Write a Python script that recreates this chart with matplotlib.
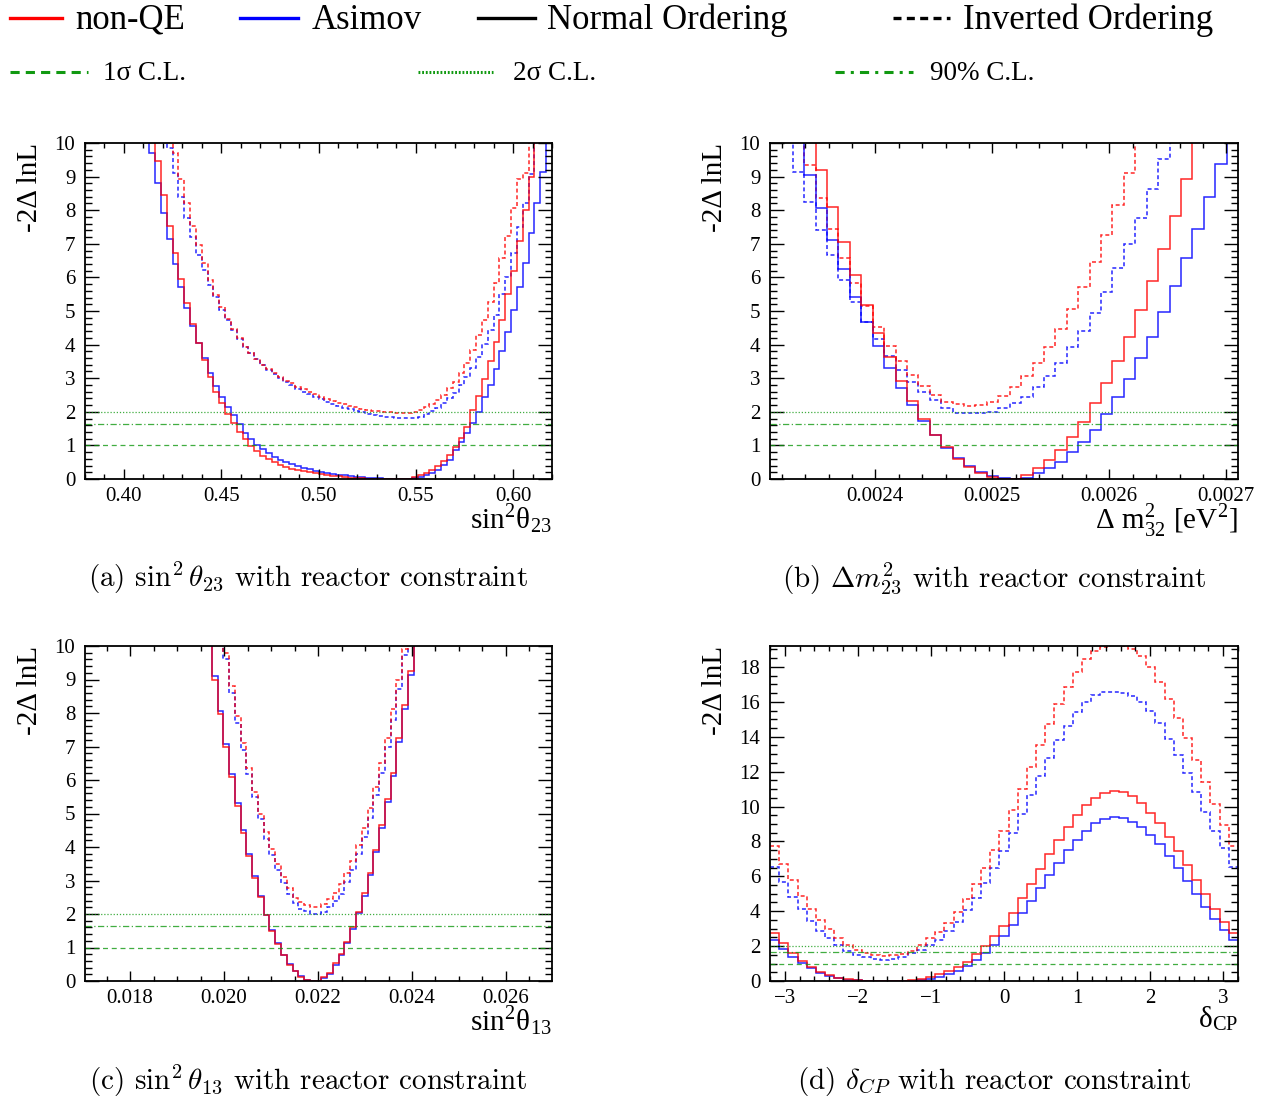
import numpy as np
import matplotlib.pyplot as plt
from matplotlib.lines import Line2D
from matplotlib.ticker import MultipleLocator, FormatStrFormatter

plt.rcParams['font.family'] = ['Liberation Serif', 'DejaVu Serif']
plt.rcParams['mathtext.fontset'] = 'stix'

# ---- data ----
# (a) sin^2 theta23: 80 bins on [0.38, 0.62]
a_edges = np.linspace(0.38, 0.62, 81)
a_nqe_no_start = 11
a_nqe_no = [10.6, 9.46, 8.45, 7.54, 6.72, 5.94, 5.23, 4.60, 4.04, 3.54, 3.05, 2.60, 2.25, 1.93,
            1.66, 1.40, 1.19, 0.99, 0.83, 0.69, 0.59, 0.50, 0.42, 0.36, 0.31, 0.27, 0.23, 0.20,
            0.17, 0.14, 0.12, 0.10, 0.08, 0.06, 0.04, 0.03, 0.02, 0.01, 0.0, 0.0, 0.0, 0.0, 0.0,
            0.0, 0.0, 0.05, 0.12, 0.19, 0.27, 0.38, 0.53, 0.72, 0.96, 1.23, 1.55, 2.05, 2.46,
            2.97, 3.51, 4.07, 4.73, 5.50, 6.20, 7.07, 8.00, 9.00, 10.6]
a_asi_no_start = 10
a_asi_no = [10.6, 9.69, 8.80, 7.91, 7.13, 6.39, 5.72, 5.08, 4.56, 4.04, 3.59, 3.16, 2.78, 2.45,
            2.15, 1.89, 1.64, 1.37, 1.18, 1.02, 0.88, 0.76, 0.66, 0.57, 0.50, 0.44, 0.38, 0.33,
            0.29, 0.25, 0.22, 0.19, 0.16, 0.13, 0.11, 0.09, 0.07, 0.05, 0.04, 0.03, 0.02, 0.01,
            0.0, 0.0, 0.0, 0.0, 0.02, 0.07, 0.12, 0.17, 0.27, 0.42, 0.57, 0.86, 1.11, 1.36, 1.66,
            2.00, 2.45, 2.80, 3.26, 3.81, 4.38, 5.03, 5.72, 6.44, 7.31, 8.20, 9.15, 10.6]
a_nqe_io_start = 14
a_nqe_io = [10.6, 9.69, 8.92, 8.20, 7.53, 6.96, 6.42, 5.92, 5.48, 5.13, 4.76, 4.46, 4.19, 3.94,
            3.74, 3.56, 3.40, 3.26, 3.14, 3.03, 2.93, 2.85, 2.75, 2.67, 2.59, 2.52, 2.45, 2.39,
            2.33, 2.27, 2.22, 2.17, 2.13, 2.09, 2.06, 2.03, 2.01, 1.99, 1.98, 1.97, 1.96, 1.97,
            2.00, 2.05, 2.13, 2.22, 2.35, 2.50, 2.70, 2.90, 3.14, 3.46, 3.84, 4.29, 4.73, 5.28,
            5.82, 6.57, 7.23, 8.06, 8.92, 9.10, 10.6]
a_asi_io_start = 13
a_asi_io = [10.6, 9.84, 9.10, 8.40, 7.76, 7.21, 6.67, 6.22, 5.77, 5.43, 5.03, 4.73, 4.43, 4.17,
            3.94, 3.74, 3.56, 3.40, 3.24, 3.12, 3.00, 2.89, 2.79, 2.69, 2.60, 2.52, 2.44, 2.37,
            2.30, 2.24, 2.18, 2.12, 2.07, 2.02, 1.98, 1.94, 1.91, 1.88, 1.86, 1.84, 1.82, 1.81,
            1.81, 1.82, 1.86, 1.92, 2.01, 2.12, 2.25, 2.40, 2.57, 2.80, 3.03, 3.29, 3.62, 4.02,
            4.43, 4.88, 5.51, 6.02, 6.74, 7.49, 8.22, 9.08, 10.6]

# (b) Delta m^2_32: 41 bins on [0.00231, 0.00271]
b_edges = np.linspace(0.00231, 0.00271, 42)
b_nqe_no_start = 3
b_nqe_no = [10.6, 9.20, 8.09, 7.04, 6.08, 5.19, 4.36, 3.62, 2.93, 2.31, 1.78, 1.30, 0.94, 0.61,
            0.35, 0.17, 0.05, 0.0, 0.0, 0.12, 0.32, 0.57, 0.86, 1.26, 1.71, 2.25, 2.85, 3.51,
            4.24, 5.03, 5.90, 6.84, 7.83, 8.92, 10.6]
b_asi_no_start = 2
b_asi_no = [10.6, 9.05, 8.06, 7.11, 6.24, 5.43, 4.67, 3.96, 3.31, 2.72, 2.20, 1.73, 1.30, 0.91,
            0.63, 0.40, 0.22, 0.09, 0.02, 0.0, 0.04, 0.17, 0.32, 0.52, 0.79, 1.11, 1.46, 1.93,
            2.43, 2.98, 3.59, 4.24, 4.96, 5.74, 6.57, 7.43, 8.38, 9.38, 10.6]
b_nqe_io_start = 2
b_nqe_io = [10.6, 9.35, 8.35, 7.43, 6.59, 5.84, 5.15, 4.51, 3.97, 3.52, 3.10, 2.77, 2.50, 2.30,
            2.22, 2.18, 2.20, 2.30, 2.48, 2.73, 3.06, 3.46, 3.92, 4.45, 5.05, 5.72, 6.47, 7.26,
            8.16, 9.11, 10.6]
b_asi_io_start = 1
b_asi_io = [10.6, 9.13, 8.23, 7.41, 6.67, 5.92, 5.28, 4.68, 4.16, 3.66, 3.24, 2.90, 2.60, 2.35,
            2.10, 1.97, 1.95, 1.95, 2.00, 2.10, 2.25, 2.45, 2.75, 3.07, 3.46, 3.92, 4.39, 4.95,
            5.57, 6.27, 6.99, 7.76, 8.62, 9.51, 10.6]

# (c) sin^2 theta13: 81 bins on [0.01704, 0.02698]
c_edges = np.linspace(0.01704, 0.02698, 82)
c_nqe_no_start = 21
c_nqe_no = [10.6, 9.00, 7.97, 6.99, 6.10, 5.23, 4.43, 3.73, 3.08, 2.52, 1.96, 1.50, 1.10, 0.78,
            0.48, 0.30, 0.13, 0.03, 0.01, 0.0, 0.11, 0.25, 0.53, 0.81, 1.17, 1.60, 2.07, 2.62,
            3.23, 3.91, 4.66, 5.42, 6.22, 7.24, 8.24, 9.26, 10.6]
c_asi_no_start = 21
c_asi_no = [10.6, 9.10, 8.06, 7.07, 6.17, 5.30, 4.50, 3.78, 3.12, 2.54, 1.98, 1.52, 1.12, 0.79,
            0.50, 0.30, 0.14, 0.04, 0.0, 0.0, 0.09, 0.22, 0.48, 0.77, 1.12, 1.55, 2.02, 2.55,
            3.16, 3.84, 4.58, 5.34, 6.12, 7.12, 8.12, 9.14, 10.6]
c_nqe_io_start = 23
c_nqe_io = [10.6, 9.78, 8.81, 7.91, 7.09, 6.35, 5.65, 5.00, 4.44, 3.94, 3.49, 3.11, 2.79, 2.49,
            2.37, 2.27, 2.22, 2.22, 2.29, 2.44, 2.64, 2.89, 3.21, 3.58, 4.06, 4.56, 5.15, 5.80,
            6.50, 7.26, 8.12, 8.99, 9.90, 10.6]
c_asi_io_start = 23
c_asi_io = [10.6, 9.60, 8.60, 7.70, 6.90, 6.17, 5.50, 4.84, 4.25, 3.77, 3.30, 2.92, 2.60, 2.33,
            2.16, 2.08, 2.01, 2.01, 2.06, 2.21, 2.38, 2.61, 2.95, 3.30, 3.80, 4.30, 4.87, 5.55,
            6.20, 7.00, 7.80, 8.72, 9.73, 10.6]

# (d) delta_CP: 51 bins centred on -pi ... pi
d_edges = np.linspace(-np.pi - np.pi / 50, np.pi + np.pi / 50, 52)
d_nqe_no = [2.73, 2.16, 1.62, 1.17, 0.82, 0.53, 0.34, 0.19, 0.10, 0.04, 0.02, 0.0, 0.0, 0.0,
            0.0, 0.04, 0.10, 0.21, 0.38, 0.59, 0.82, 1.11, 1.55, 2.01, 2.58, 3.17, 3.92, 4.74,
            5.54, 6.40, 7.26, 8.08, 8.84, 9.51, 10.09, 10.49, 10.75, 10.89, 10.81, 10.62, 10.22,
            9.65, 9.04, 8.27, 7.45, 6.63, 5.79, 4.97, 4.15, 3.40, 2.73]
d_asi_no = [2.35, 1.81, 1.36, 1.01, 0.73, 0.48, 0.31, 0.17, 0.08, 0.04, 0.01, 0.0, 0.0, 0.0,
            0.0, 0.02, 0.06, 0.13, 0.25, 0.38, 0.57, 0.86, 1.20, 1.59, 2.06, 2.58, 3.21, 3.88,
            4.58, 5.35, 6.09, 6.78, 7.51, 8.08, 8.62, 9.04, 9.26, 9.38, 9.32, 9.13, 8.81, 8.37,
            7.85, 7.16, 6.46, 5.75, 4.99, 4.26, 3.57, 2.92, 2.35]
d_nqe_io = [7.76, 6.70, 5.79, 4.87, 4.15, 3.50, 2.96, 2.48, 2.06, 1.78, 1.59, 1.49, 1.45, 1.47,
            1.55, 1.72, 2.06, 2.45, 2.83, 3.34, 3.97, 4.70, 5.54, 6.46, 7.51, 8.62, 9.80, 11.00,
            12.28, 13.52, 14.73, 15.85, 16.87, 17.73, 18.43, 18.91, 19.16, 19.25, 19.20, 19.00,
            18.62, 18.01, 17.15, 16.16, 15.09, 13.91, 12.66, 11.38, 10.12, 8.94, 7.76]
d_asi_io = [6.55, 5.69, 4.83, 4.11, 3.44, 2.88, 2.48, 2.06, 1.74, 1.49, 1.36, 1.26, 1.22, 1.26,
            1.36, 1.59, 1.80, 2.05, 2.35, 2.85, 3.40, 4.08, 4.74, 5.60, 6.50, 7.45, 8.50, 9.57,
            10.66, 11.75, 12.80, 13.81, 14.61, 15.43, 16.01, 16.39, 16.58, 16.58, 16.52, 16.33,
            16.01, 15.47, 14.77, 13.89, 12.95, 11.90, 10.81, 9.70, 8.62, 7.60, 6.55]

cl_levels = [1.0, 2.0, 1.64]
cl_labels = ['1σ C.L.', '2σ C.L.', '90% C.L.']
series_labels = ['non-QE', 'Asimov', 'Normal Ordering', 'Inverted Ordering']

xlabels = ['sin$^{\\mathregular{2}}$θ$_{\\mathregular{23}}$',
           'Δ m$^{\\mathregular{2}}_{\\mathregular{32}}$ [eV$^{\\mathregular{2}}$]',
           'sin$^{\\mathregular{2}}$θ$_{\\mathregular{13}}$',
           'δ$_{\\mathregular{CP}}$']
captions = [r'(a) $\sin^2\theta_{23}$ with reactor constraint',
            r'(b) $\Delta m^2_{23}$ with reactor constraint',
            r'(c) $\sin^2\theta_{13}$ with reactor constraint',
            r'(d) $\delta_{CP}$ with reactor constraint']

RED, BLUE, GREEN = '#ff0000', '#0000ff', '#119911'
SOLID, DASHED = '-', (0, (2.6, 1.8))

W, H = 1269, 1102


def box(l, t, r, b):
    return [l / W, 1 - b / H, (r - l) / W, (b - t) / H]


def draw_panel(ax, edges, curves, xlim, ylim):
    for start, vals, color, ls in curves:
        e = edges[start:start + len(vals) + 1]
        ax.stairs(vals, e, baseline=None, color=color, ls=ls, lw=1.1, alpha=0.85)
    ax.axhline(cl_levels[0], color=GREEN, lw=0.9, ls=(0, (4, 3)), alpha=0.8)
    ax.axhline(cl_levels[1], color=GREEN, lw=0.9, ls=(0, (1, 1.5)), alpha=0.8)
    ax.axhline(cl_levels[2], color=GREEN, lw=0.9, ls=(0, (5, 2, 1, 2)), alpha=0.8)
    ax.set_xlim(*xlim)
    ax.set_ylim(*ylim)
    ax.tick_params(which='both', direction='in', top=True, right=True, labelsize=15, width=1.0)
    ax.tick_params(axis='y', which='major', length=10, pad=7)
    ax.tick_params(axis='y', which='minor', length=5)
    ax.tick_params(axis='x', which='major', length=7.5, pad=6)
    ax.tick_params(axis='x', which='minor', length=3.8)
    for s in ax.spines.values():
        s.set_linewidth(1.3)


fig = plt.figure(figsize=(W / 100, H / 100), dpi=100)

ax_a = fig.add_axes(box(85, 143, 552, 479))
draw_panel(ax_a, a_edges,
           [(a_asi_io_start, a_asi_io, BLUE, DASHED), (a_nqe_io_start, a_nqe_io, RED, DASHED),
            (a_asi_no_start, a_asi_no, BLUE, SOLID), (a_nqe_no_start, a_nqe_no, RED, SOLID)],
           (0.38, 0.62), (0, 10))
ax_a.xaxis.set_major_locator(MultipleLocator(0.05))
ax_a.xaxis.set_minor_locator(MultipleLocator(0.01))
ax_a.xaxis.set_major_formatter(FormatStrFormatter('%.2f'))

ax_b = fig.add_axes(box(770, 143, 1238, 479))
draw_panel(ax_b, b_edges,
           [(b_asi_io_start, b_asi_io, BLUE, DASHED), (b_nqe_io_start, b_nqe_io, RED, DASHED),
            (b_asi_no_start, b_asi_no, BLUE, SOLID), (b_nqe_no_start, b_nqe_no, RED, SOLID)],
           (0.00231, 0.00271), (0, 10))
ax_b.xaxis.set_major_locator(MultipleLocator(0.0001))
ax_b.xaxis.set_minor_locator(MultipleLocator(0.00002))
ax_b.xaxis.set_major_formatter(FormatStrFormatter('%.4f'))

ax_c = fig.add_axes(box(85, 646, 552, 981))
draw_panel(ax_c, c_edges,
           [(c_asi_io_start, c_asi_io, BLUE, DASHED), (c_nqe_io_start, c_nqe_io, RED, DASHED),
            (c_asi_no_start, c_asi_no, BLUE, SOLID), (c_nqe_no_start, c_nqe_no, RED, SOLID)],
           (0.01704, 0.02698), (0, 10))
ax_c.xaxis.set_major_locator(MultipleLocator(0.002))
ax_c.xaxis.set_minor_locator(MultipleLocator(0.0005))
ax_c.xaxis.set_major_formatter(FormatStrFormatter('%.3f'))

ax_d = fig.add_axes(box(770, 646, 1238, 981))
draw_panel(ax_d, d_edges,
           [(0, d_asi_io, BLUE, DASHED), (0, d_nqe_io, RED, DASHED),
            (0, d_asi_no, BLUE, SOLID), (0, d_nqe_no, RED, SOLID)],
           (d_edges[0], d_edges[-1]), (0, 19.2))
ax_d.xaxis.set_major_locator(MultipleLocator(1))
ax_d.xaxis.set_minor_locator(MultipleLocator(0.2))
ax_d.yaxis.set_major_locator(MultipleLocator(2))
ax_d.yaxis.set_minor_locator(MultipleLocator(0.5))

for ax in (ax_a, ax_b, ax_c):
    ax.yaxis.set_major_locator(MultipleLocator(1))
    ax.yaxis.set_minor_locator(MultipleLocator(0.2))

axes = [ax_a, ax_b, ax_c, ax_d]
ylab_x = [30, 715, 30, 715]
ylab_top = [143, 143, 646, 646]
cap_x = [308, 994, 308, 994]
cap_y = [578, 578, 1081, 1081]
for i, ax in enumerate(axes):
    fig.text(ylab_x[i] / W, 1 - ylab_top[i] / H, '-2Δ lnL', rotation=90,
             ha='center', va='top', fontsize=21)
    ax.text(1.0, -0.068, xlabels[i], transform=ax.transAxes, ha='right', va='top',
            fontsize=21)
    fig.text(cap_x[i] / W, 1 - cap_y[i] / H, captions[i], ha='center', va='center',
             fontsize=21, family='cmr10', math_fontfamily='cm')

# legend, top row
top_lines = [(10, 62, 75, RED, '-'), (240, 298, 312, BLUE, '-'),
             (478, 535, 547, 'black', '-'), (893, 950, 963, 'black', (0, (2.4, 1.6)))]
for (x0, x1, xt, col, ls), lab in zip(top_lines, series_labels):
    fig.add_artist(Line2D([x0 / W, x1 / W], [1 - 18 / H] * 2, color=col, ls=ls, lw=2.4,
                          transform=fig.transFigure))
    fig.text(xt / W, 1 - 29 / H, lab, fontsize=25, ha='left', va='baseline')

# legend, second row
cl_lines = [(10, 88, 103, (0, (3, 2))), (418, 493, 513, (0, (0.6, 0.6))),
            (835, 913, 930, (0, (3, 2, 1, 2)))]
for (x0, x1, xt, ls), lab in zip(cl_lines, cl_labels):
    fig.add_artist(Line2D([x0 / W, x1 / W], [1 - 72 / H] * 2, color=GREEN, ls=ls, lw=2.2,
                          transform=fig.transFigure))
    fig.text(xt / W, 1 - 80 / H, lab, fontsize=19.5, ha='left', va='baseline')

fig.savefig('out.png', dpi=100)
